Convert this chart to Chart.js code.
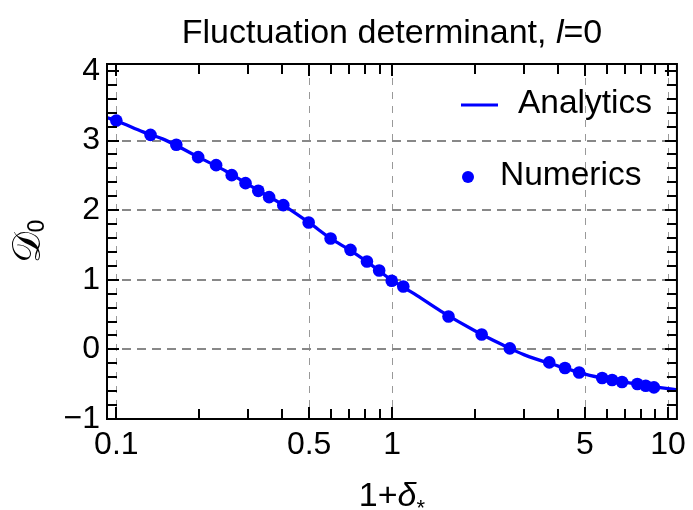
<!DOCTYPE html>
<html>
<head>
<meta charset="utf-8">
<script src="https://cdn.jsdelivr.net/npm/chart.js@4/dist/chart.umd.min.js"></script>
<style>
  body { margin: 0; background: #fff; }
  canvas { display: block; }
</style>
</head>
<body>
<canvas id="detChart" width="693" height="510"></canvas>
<script>
// numerics (dots)
const numX = [0.1, 0.133, 0.165, 0.198, 0.23, 0.262, 0.294, 0.327, 0.358, 0.403, 0.498, 0.598, 0.706, 0.81, 0.897, 0.996, 1.097, 1.6, 2.11, 2.67, 3.71, 4.23, 4.76, 5.77, 6.27, 6.81, 7.74, 8.3, 8.89];
const numY = [3.287, 3.082, 2.94, 2.762, 2.647, 2.503, 2.388, 2.278, 2.187, 2.072, 1.823, 1.593, 1.43, 1.263, 1.134, 0.986, 0.904, 0.473, 0.215, 0.014, -0.187, -0.268, -0.331, -0.411, -0.44, -0.469, -0.497, -0.522, -0.546];

// analytic curve
const anaX = [0.0925, 0.1, 0.125, 0.15, 0.2, 0.25, 0.3, 0.4, 0.5, 0.6, 0.7, 0.8, 1.0, 1.2, 1.5, 2.0, 2.5, 3.0, 4.0, 5.0, 6.0, 8.0, 10.0, 10.77];
const anaY = [3.33, 3.285, 3.125, 3.01, 2.755, 2.56, 2.37, 2.08, 1.82, 1.59, 1.43, 1.275, 0.99, 0.80, 0.55, 0.265, 0.07, -0.075, -0.24, -0.355, -0.425, -0.51, -0.565, -0.58];

// axis ticks
const xTickVals = [0.1, 0.5, 1, 5, 10];
const xTickLabels = ['0.1', '0.5', '1', '5', '10'];
const xMinorVals = [0.2, 0.3, 0.4, 0.6, 0.7, 0.8, 0.9, 2, 3, 4, 6, 7, 8, 9];
const yTickVals = [-1, 0, 1, 2, 3, 4];
const yTickLabels = ['\u22121', '0', '1', '2', '3', '4'];
const yGridVals = [0, 1, 2, 3];

const BLUE = '#0000ff';
const FONT = "'Liberation Sans', Arial, sans-serif";

// frame with inward ticks on all four sides
const framePlugin = {
    id: 'frame',
    afterDraw(chart) {
        const ctx = chart.ctx;
        const a = chart.chartArea;
        const xs = chart.scales.x, ys = chart.scales.y;
        ctx.save();
        ctx.strokeStyle = '#000';
        ctx.lineWidth = 2;
        ctx.beginPath();
        const tick = (x1, y1, x2, y2) => { ctx.moveTo(x1, y1); ctx.lineTo(x2, y2); };
        xTickVals.concat(xMinorVals).forEach(v => {
            const px = Math.round(xs.getPixelForValue(v));
            const len = xTickVals.includes(v) ? 12 : 10;
            tick(px, a.bottom, px, a.bottom - len);
            tick(px, a.top, px, a.top + len);
        });
        for (let k = -10; k <= 41; k += 2) {
            const v = k / 10;
            const py = Math.round(ys.getPixelForValue(v));
            const len = (k % 10 === 0) ? 12 : 10;
            tick(a.left, py, a.left + len, py);
            tick(a.right, py, a.right - len, py);
        }
        ctx.stroke();
        ctx.strokeRect(a.left, a.top, a.right - a.left, a.bottom - a.top);
        ctx.restore();
    }
};

// title, axis labels, legend (mixed fonts)
const textPlugin = {
    id: 'texts',
    afterDraw(chart) {
        const ctx = chart.ctx;
        const a = chart.chartArea;
        const cx = (a.left + a.right) / 2;
        ctx.save();
        ctx.fillStyle = '#000';
        ctx.textBaseline = 'alphabetic';

        // title
        const parts = [
            ['Fluctuation determinant, ', '34px ' + FONT],
            ['l', 'italic 34px ' + FONT],
            ['=0', '34px ' + FONT]
        ];
        let w = 0;
        parts.forEach(p => { ctx.font = p[1]; w += ctx.measureText(p[0]).width; });
        let x = cx - w / 2;
        parts.forEach(p => { ctx.font = p[1]; ctx.fillText(p[0], x, 43); x += ctx.measureText(p[0]).width; });

        // x label: 1+δ*
        ctx.font = '34px ' + FONT;
        const w1 = ctx.measureText('1+').width;
        ctx.font = 'italic 34px ' + FONT;
        const w2 = ctx.measureText('\u03b4').width;
        ctx.font = '22px ' + FONT;
        const w3 = ctx.measureText('*').width;
        x = cx - (w1 + w2 + w3) / 2;
        ctx.font = '34px ' + FONT;
        ctx.fillText('1+', x, 506);
        ctx.font = 'italic 34px ' + FONT;
        ctx.fillText('\u03b4', x + w1, 506);
        ctx.font = '22px ' + FONT;
        ctx.fillText('*', x + w1 + w2, 515);

        // y label: script D with subscript 0
        ctx.translate(44, (a.top + a.bottom) / 2);
        ctx.rotate(-Math.PI / 2);
        ctx.font = "39px 'DejaVu Serif', 'DejaVu Sans', serif";
        const dw = ctx.measureText('\ud835\udc9f').width;
        ctx.font = '23px ' + FONT;
        const zw = ctx.measureText('0').width;
        const x0 = -(dw + zw) / 2;
        ctx.font = "39px 'DejaVu Serif', 'DejaVu Sans', serif";
        ctx.fillText('\ud835\udc9f', x0, -4);
        ctx.font = '23px ' + FONT;
        ctx.fillText('0', x0 + dw, 0);
        ctx.setTransform(1, 0, 0, 1, 0, 0);

        // legend
        const ds = chart.data.datasets;
        ctx.font = '33.5px ' + FONT;
        ctx.textBaseline = 'middle';
        ctx.strokeStyle = BLUE;
        ctx.lineWidth = 3;
        ctx.beginPath();
        ctx.moveTo(461, 105);
        ctx.lineTo(498, 105);
        ctx.stroke();
        ctx.fillText(ds[1].label, 518, 104);
        ctx.fillStyle = BLUE;
        ctx.beginPath();
        ctx.arc(468, 177, 6, 0, Math.PI * 2);
        ctx.fill();
        ctx.fillStyle = '#000';
        ctx.fillText(ds[0].label, 500, 176);
        ctx.restore();
    }
};

const ctx = document.getElementById('detChart').getContext('2d');
const chart = new Chart(ctx, {
    type: 'line',
    data: {
        datasets: [
            {
                label: 'Numerics',
                data: numX.map((v, i) => ({ x: v, y: numY[i] })),
                showLine: false,
                pointRadius: 6.3,
                pointBackgroundColor: BLUE,
                pointBorderWidth: 0,
                order: 0
            },
            {
                label: 'Analytics',
                data: anaX.map((v, i) => ({ x: v, y: anaY[i] })),
                borderColor: BLUE,
                borderWidth: 3.3,
                pointRadius: 0,
                cubicInterpolationMode: 'monotone',
                order: 1
            }
        ]
    },
    options: {
        responsive: false,
        animation: false,
        layout: { padding: { top: 64, right: 10, left: 0, bottom: 0 } },
        plugins: {
            legend: { display: false },
            title: { display: false },
            tooltip: { enabled: false }
        },
        scales: {
            x: {
                type: 'logarithmic',
                min: 0.0925,
                max: 10.77,
                afterBuildTicks: scale => { scale.ticks = xTickVals.map(v => ({ value: v })); },
                afterFit: scale => { scale.height = 91; },
                border: { display: false, dash: [7, 7] },
                grid: { color: '#999999', lineWidth: 1, drawTicks: false },
                ticks: {
                    autoSkip: false,
                    maxRotation: 0,
                    padding: 7,
                    color: '#000',
                    font: { family: FONT, size: 32 },
                    callback: (v, i) => xTickLabels[i]
                }
            },
            y: {
                type: 'linear',
                min: -1,
                max: 4.1,
                afterBuildTicks: scale => { scale.ticks = yTickVals.map(v => ({ value: v })); },
                afterFit: scale => { scale.width = 107; },
                border: { display: false, dash: [9, 6] },
                grid: {
                    drawTicks: false,
                    lineWidth: 2,
                    color: c => yGridVals.includes(c.tick.value) ? '#888888' : 'rgba(0,0,0,0)'
                },
                ticks: {
                    padding: 7,
                    color: '#000',
                    font: { family: FONT, size: 32 },
                    callback: (v, i) => yTickLabels[i]
                }
            }
        }
    },
    plugins: [framePlugin, textPlugin]
});
</script>
</body>
</html>
